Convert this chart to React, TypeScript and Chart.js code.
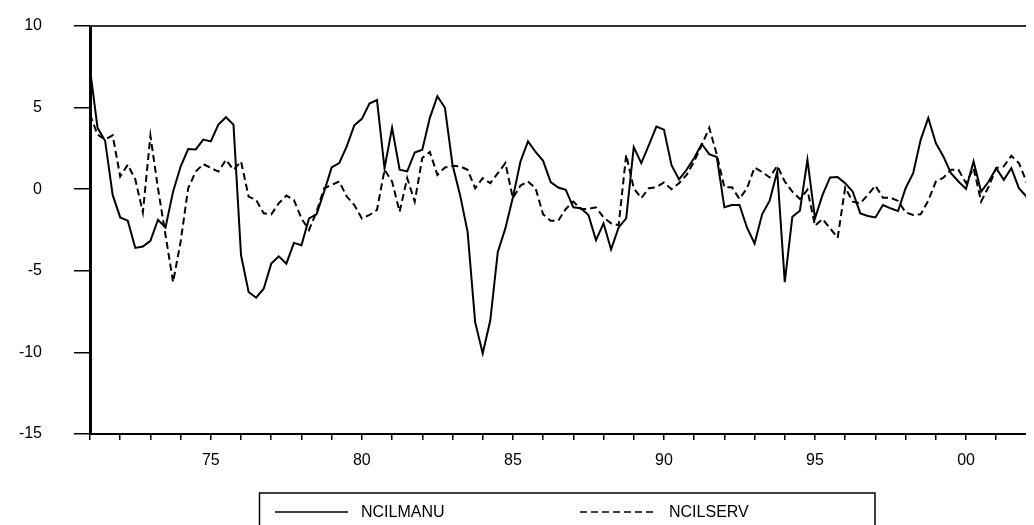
import React, { useEffect, useRef } from "react";
import { Chart, registerables } from "chart.js";

Chart.register(...registerables);

// Quarterly series starting 1971Q1
const START_YEAR = 1971;
const SERIES_NAMES = ["NCILMANU", "NCILSERV"];

const NCILMANU = [
  7.35, 3.76, 2.97, -0.35, -1.73, -1.93, -3.6, -3.51, -3.16, -1.87,
  -2.34, -0.15, 1.39, 2.46, 2.44, 3.04, 2.93, 3.96, 4.41, 3.96,
  -4.05, -6.3, -6.65, -6.1, -4.56, -4.11, -4.56, -3.29, -3.43, -1.79,
  -1.54, -0.15, 1.33, 1.6, 2.62, 3.92, 4.31, 5.25, 5.46, 1.29,
  3.76, 1.19, 1.09, 2.25, 2.42, 4.37, 5.7, 4.99, 1.5, -0.35,
  -2.61, -8.15, -10.06, -8.05, -3.84, -2.4, -0.5, 1.7, 2.93, 2.28,
  1.74, 0.43, 0.1, -0.04, -1.11, -1.17, -1.58, -3.12, -2.09, -3.69,
  -2.34, -1.79, 2.58, 1.6, 2.7, 3.84, 3.65, 1.47, 0.6, 1.19,
  1.91, 2.77, 2.15, 1.97, -1.11, -0.97, -0.97, -2.36, -3.33, -1.54,
  -0.7, 1.09, -5.69, -1.69, -1.32, 1.8, -1.79, -0.35, 0.72, 0.74,
  0.37, -0.15, -1.48, -1.64, -1.73, -0.97, -1.17, -1.34, 0.06, 0.98,
  3.04, 4.37, 2.83, 2.01, 0.98, 0.47, 0.02, 1.7, -0.15, 0.47,
  1.29, 0.57, 1.29, 0.06, -0.45, -3.12,
];

const NCILSERV = [
  4.58, 3.34, 3.04, 3.3, 0.78, 1.5, 0.6, -1.42, 3.28, 0.06,
  -2.81, -5.69, -3.22, 0.06, 1.08, 1.54, 1.3, 1.08, 1.8, 1.19,
  1.7, -0.45, -0.66, -1.48, -1.54, -0.86, -0.39, -0.66, -1.79, -2.5,
  -1.38, 0.06, 0.26, 0.47, -0.45, -0.97, -1.79, -1.58, -1.27, 1.19,
  0.47, -1.38, 0.68, -0.76, 1.91, 2.28, 0.88, 1.33, 1.43, 1.4,
  1.19, 0.06, 0.68, 0.37, 0.98, 1.6, -0.55, 0.22, 0.47, 0.06,
  -1.54, -1.93, -1.93, -1.21, -0.76, -1.21, -1.21, -1.11, -1.73, -2.09,
  -2.2, 2.11, 0.06, -0.55, 0.06, 0.12, 0.41, 0.0, 0.37, 0.88,
  1.7, 2.7, 3.76, 2.11, 0.12, 0.12, -0.6, 0.06, 1.33, 1.05,
  0.72, 1.43, 0.47, -0.15, -0.6, -0.04, -2.24, -1.83, -2.4, -2.98,
  0.1, -0.76, -0.86, -0.35, 0.22, -0.52, -0.52, -0.72, -1.42, -1.58,
  -1.54, -0.7, 0.47, 0.71, 1.19, 1.19, 0.37, 1.29, -0.76, 0.16,
  1.29, 1.4, 2.05, 1.6, 0.47, -0.76,
];

const Y_MIN = -15;
const Y_MAX = 10;
const Y_STEP = 5;

const toPoints = (values: number[]) =>
  values.map((v, i) => ({ x: START_YEAR + i / 4, y: v }));

const FONT = "'Liberation Sans', Arial, Helvetica, sans-serif";
const DASH = [7, 4];

// Frame top line and the boxed legend below the axis
const framePlugin = {
  id: "frameAndLegend",
  afterDraw(chart: any) {
    const { ctx, chartArea } = chart;
    ctx.save();
    ctx.strokeStyle = "#333";
    ctx.lineWidth = 2;
    ctx.beginPath();
    ctx.moveTo(chartArea.left, chartArea.top);
    ctx.lineTo(chartArea.right, chartArea.top);
    ctx.stroke();

    // legend box
    const boxLeft = 251.5;
    const boxTop = 485;
    const boxRight = 867;
    ctx.strokeStyle = "#000";
    ctx.lineWidth = 1.5;
    ctx.strokeRect(boxLeft, boxTop, boxRight - boxLeft, 60);

    const rowY = 504;
    const entries = [
      { x0: 267, x1: 340, tx: 353, dash: [] as number[] },
      { x0: 572, x1: 645, tx: 661, dash: DASH },
    ];
    ctx.font = `16px ${FONT}`;
    ctx.fillStyle = "#000";
    ctx.textBaseline = "middle";
    ctx.textAlign = "left";
    entries.forEach((e, k) => {
      ctx.lineWidth = 1.5;
      ctx.setLineDash(e.dash);
      ctx.beginPath();
      ctx.moveTo(e.x0, rowY);
      ctx.lineTo(e.x1, rowY);
      ctx.stroke();
      ctx.setLineDash([]);
      ctx.fillText(SERIES_NAMES[k], e.tx, rowY + 1);
    });
    ctx.restore();
  },
};

export default function App() {
  const canvasRef = useRef<HTMLCanvasElement | null>(null);

  useEffect(() => {
    if (!canvasRef.current) return;
    const chart = new Chart(canvasRef.current, {
      type: "line",
      data: {
        datasets: [
          {
            label: SERIES_NAMES[0],
            data: toPoints(NCILMANU),
            borderColor: "#000",
            borderWidth: 2,
            pointRadius: 0,
            tension: 0,
            fill: false,
          },
          {
            label: SERIES_NAMES[1],
            data: toPoints(NCILSERV),
            borderColor: "#000",
            borderWidth: 2,
            borderDash: DASH,
            pointRadius: 0,
            tension: 0,
            fill: false,
          },
        ],
      },
      options: {
        animation: false,
        responsive: false,
        maintainAspectRatio: false,
        layout: { padding: { top: 18, right: 0, left: 0, bottom: 0 } },
        plugins: {
          legend: { display: false },
          tooltip: { enabled: false },
        },
        scales: {
          x: {
            type: "linear",
            min: START_YEAR,
            max: START_YEAR + (NCILMANU.length - 1) / 4,
            afterBuildTicks: (scale: any) => {
              scale.ticks = scale.ticks.filter((t: any) =>
                Number.isInteger(t.value)
              );
            },
            afterFit: (scale: any) => {
              scale.height = 91;
              scale.paddingLeft = 0;
              scale.paddingRight = 0;
            },
            ticks: {
              stepSize: 1,
              autoSkip: false,
              maxRotation: 0,
              padding: 11,
              color: "#000",
              font: { family: FONT, size: 16 },
              callback: (v: any) =>
                Number(v) % 5 === 0
                  ? String(Number(v) % 100).padStart(2, "0")
                  : "",
            },
            grid: {
              drawOnChartArea: false,
              drawTicks: true,
              tickLength: 6,
              color: "#000",
              lineWidth: 1.5,
            },
            border: { display: true, color: "#000", width: 2 },
          },
          y: {
            min: Y_MIN,
            max: Y_MAX,
            afterFit: (scale: any) => {
              scale.width = 82;
              scale.paddingTop = 0;
              scale.paddingBottom = 0;
            },
            ticks: {
              stepSize: Y_STEP,
              padding: 32,
              color: "#000",
              font: { family: FONT, size: 16 },
            },
            grid: {
              drawOnChartArea: false,
              drawTicks: true,
              tickLength: 16,
              color: "#000",
              lineWidth: 1.5,
            },
            border: { display: true, color: "#000", width: 3 },
          },
        },
      },
      plugins: [framePlugin],
    });
    return () => chart.destroy();
  }, []);

  return (
    <div style={{ width: 1026, height: 517, background: "#fff" }}>
      <canvas
        ref={canvasRef}
        width={1026}
        height={517}
        style={{ display: "block" }}
      />
    </div>
  );
}
